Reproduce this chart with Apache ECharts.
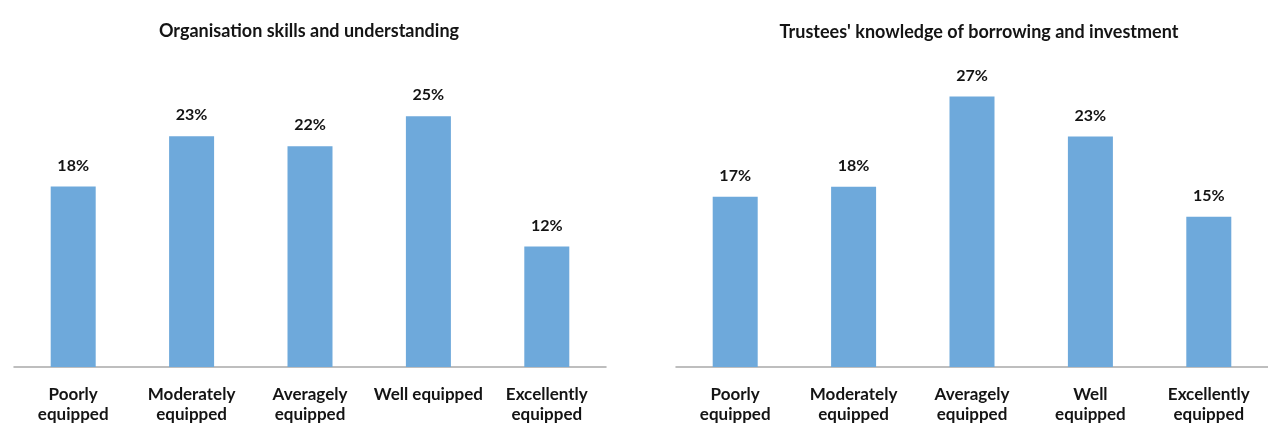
<!DOCTYPE html>
<html>
<head>
<meta charset="utf-8">
<script src="https://cdn.jsdelivr.net/npm/echarts@6/dist/echarts.min.js"></script>
<style>
html,body{margin:0;padding:0;background:#fff;}
#c{width:1268px;height:425px;}
</style>
</head>
<body>
<div id="c"></div>
<script>
const leftTitle = "Organisation skills and understanding";
const rightTitle = "Trustees' knowledge of borrowing and investment";
const leftCategories = ["Poorly\nequipped", "Moderately\nequipped", "Averagely\nequipped", "Well equipped", "Excellently\nequipped"];
const rightCategories = ["Poorly\nequipped", "Moderately\nequipped", "Averagely\nequipped", "Well\nequipped", "Excellently\nequipped"];
const leftValues = [18, 23, 22, 25, 12];
const rightValues = [17, 18, 27, 23, 15];

const FONT = "Lato";
const TXT = "#141414";
const BAR = "#6EA9DB";
const AX = "#A9A9A9";

const chart = echarts.init(document.getElementById('c'), null, {renderer: 'canvas'});

function xAxis(idx, cats, margin) {
  return {
    type: 'category', gridIndex: idx, data: cats,
    axisLine: {show: true, lineStyle: {color: AX, width: 1.5}},
    axisTick: {show: false},
    axisLabel: {interval: 0, margin: margin, color: TXT, fontFamily: FONT, fontWeight: 'bold', fontSize: 17, lineHeight: 20, verticalAlign: 'top'}
  };
}
function yAxis(idx) {
  return {type: 'value', gridIndex: idx, min: 0, max: 30, show: false, splitLine: {show: false}};
}
function series(idx, vals) {
  return {
    type: 'bar', xAxisIndex: idx, yAxisIndex: idx, data: vals, barWidth: 45,
    itemStyle: {color: BAR},
    label: {show: true, position: 'top', distance: 13, formatter: '{c}%', color: TXT, fontFamily: FONT, fontWeight: 'bold', fontSize: 16},
    animation: false
  };
}

chart.setOption({
  animation: false,
  title: [
    {text: leftTitle, left: 304, top: 17, textAlign: 'center', textStyle: {fontFamily: FONT, fontWeight: 'bold', fontSize: 18, color: TXT}},
    {text: rightTitle, left: 974, top: 18, textAlign: 'center', textStyle: {fontFamily: FONT, fontWeight: 'bold', fontSize: 18, color: TXT}}
  ],
  grid: [
    {left: 14, top: 66, width: 592, height: 303},
    {left: 676, top: 66.5, width: 597, height: 307.5}
  ],
  xAxis: [xAxis(0, leftCategories, 18), xAxis(1, rightCategories, 18)],
  yAxis: [yAxis(0), yAxis(1)],
  series: [series(0, leftValues), series(1, rightValues)]
});
</script>
</body>
</html>
